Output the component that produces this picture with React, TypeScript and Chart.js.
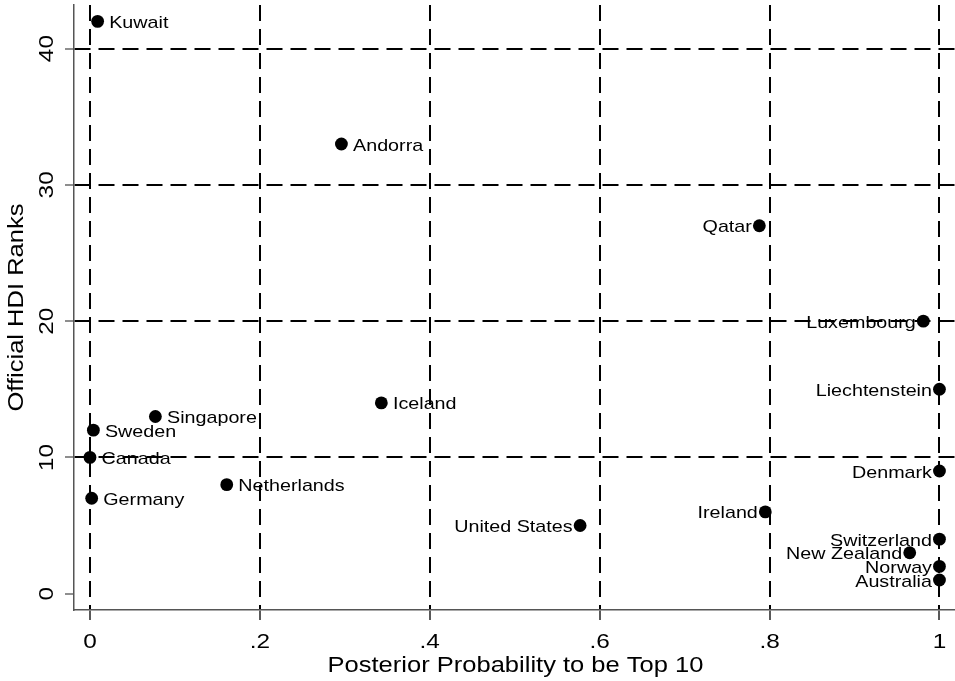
import React, { useEffect, useRef } from 'react';
import { Chart, registerables } from 'chart.js';

Chart.register(...registerables);

// ---- Data ----
const countries = [
  'Kuwait', 'Andorra', 'Qatar', 'Luxembourg', 'Liechtenstein', 'Iceland',
  'Singapore', 'Sweden', 'Canada', 'Netherlands', 'Germany', 'United States',
  'Ireland', 'Denmark', 'Switzerland', 'New Zealand', 'Norway', 'Australia',
];
const posteriorProb = [
  0.009, 0.296, 0.788, 0.981, 1.0, 0.343,
  0.077, 0.004, 0.0, 0.161, 0.002, 0.577,
  0.795, 1.0, 1.0, 0.965, 1.0, 1.0,
];
const hdiRank = [
  42, 33, 27, 20, 15, 14,
  13, 12, 10, 8, 7, 5,
  6, 9, 4, 3, 2, 1,
];
// label position relative to marker: 'r' = right, 'l' = left
const labelSide = [
  'r', 'r', 'l', 'l', 'l', 'r',
  'r', 'r', 'r', 'r', 'r', 'l',
  'l', 'l', 'l', 'l', 'l', 'l',
];
const xTitle = 'Posterior Probability to be Top 10';
const yTitle = 'Official HDI Ranks';
const X_MIN = -0.0188;
const X_MAX = 1.0183;
const Y_MIN = -1.2;
const Y_MAX = 43.2;
const X_STEP = 0.2;
const Y_STEP = 10;

const FONT = '"Liberation Sans", Arial, Helvetica, sans-serif';
const STRETCH = 1.16;
const TEXT_COLOR = '#000';

function fmtX(v: number): string {
  const r = Math.round(v * 10) / 10;
  if (r === 0) return '0';
  if (r === 1) return '1';
  return String(r).replace(/^0\./, '.');
}

const textPlugin = {
  id: 'stataText',
  afterDatasetsDraw(chart: any) {
    const ctx: CanvasRenderingContext2D = chart.ctx;
    const xs = chart.scales.x;
    const ys = chart.scales.y;
    const area = chart.chartArea;
    const meta = chart.getDatasetMeta(0);
    ctx.save();
    ctx.fillStyle = TEXT_COLOR;
    ctx.textBaseline = 'alphabetic';

    // marker labels
    ctx.font = `17px ${FONT}`;
    meta.data.forEach((el: any, i: number) => {
      const { x, y } = el.getProps(['x', 'y'], true);
      ctx.save();
      if (labelSide[i] === 'r') {
        ctx.translate(x + 11.6, y + 6.6);
        ctx.scale(STRETCH, 1);
        ctx.textAlign = 'left';
      } else {
        ctx.translate(x - 7.5, y + 6.6);
        ctx.scale(STRETCH, 1);
        ctx.textAlign = 'right';
      }
      ctx.fillText(countries[i], 0, 0);
      ctx.restore();
    });

    // x tick labels
    ctx.font = `21px ${FONT}`;
    xs.ticks.forEach((t: any) => {
      const px = xs.getPixelForValue(t.value);
      ctx.save();
      ctx.translate(px, area.bottom + 38);
      ctx.scale(STRETCH, 1);
      ctx.textAlign = 'center';
      ctx.fillText(fmtX(t.value), 0, 0);
      ctx.restore();
    });

    // y tick labels (rotated)
    ys.ticks.forEach((t: any) => {
      const py = ys.getPixelForValue(t.value);
      ctx.save();
      ctx.translate(area.left - 20.7, py);
      ctx.rotate(-Math.PI / 2);
      ctx.scale(STRETCH, 1);
      ctx.textAlign = 'center';
      ctx.fillText(String(Math.round(t.value)), 0, 0);
      ctx.restore();
    });

    // axis titles
    ctx.font = `22px ${FONT}`;
    ctx.save();
    ctx.translate((area.left + area.right) / 2 + 1, area.bottom + 62);
    ctx.scale(STRETCH, 1);
    ctx.textAlign = 'center';
    ctx.fillText(xTitle, 0, 0);
    ctx.restore();

    ctx.save();
    ctx.translate(area.left - 51, (area.top + area.bottom) / 2);
    ctx.rotate(-Math.PI / 2);
    ctx.scale(STRETCH, 1);
    ctx.textAlign = 'center';
    ctx.fillText(yTitle, 0, 0);
    ctx.restore();

    ctx.restore();
  },
};

export default function App() {
  const ref = useRef<HTMLCanvasElement>(null);

  useEffect(() => {
    if (!ref.current) return;
    const points = countries.map((_, i) => ({ x: posteriorProb[i], y: hdiRank[i] }));
    const chart = new Chart(ref.current, {
      type: 'scatter',
      data: {
        datasets: [
          {
            data: points,
            pointRadius: 6.4,
            pointHoverRadius: 6.4,
            pointBackgroundColor: '#000',
            pointBorderColor: '#000',
            pointBorderWidth: 0,
          },
        ],
      },
      options: {
        responsive: false,
        animation: false,
        devicePixelRatio: 1,
        events: [],
        layout: { autoPadding: false, padding: { top: 5, left: 0, right: 0, bottom: 0 } },
        plugins: {
          legend: { display: false },
          tooltip: { enabled: false },
          title: { display: false },
        },
        scales: {
          x: {
            type: 'linear',
            position: 'bottom',
            min: X_MIN,
            max: X_MAX,
            ticks: { stepSize: X_STEP, includeBounds: false, display: false },
            grid: {
              color: '#000',
              lineWidth: 2,
              drawTicks: true,
              tickLength: 10,
              tickColor: '#222',
              tickWidth: 1.5,
            },
            border: { display: true, color: '#555', width: 1.5, dash: [16, 8] },
            afterFit: (s: any) => {
              s.height = 71;
              s.paddingLeft = 0;
              s.paddingRight = 0;
              s.paddingTop = 0;
              s.paddingBottom = 0;
            },
          },
          y: {
            type: 'linear',
            position: 'left',
            min: Y_MIN,
            max: Y_MAX,
            ticks: { stepSize: Y_STEP, includeBounds: false, display: false },
            grid: {
              color: (c: any) => (c.tick && c.tick.value === 0 ? 'rgba(0,0,0,0)' : '#000'),
              lineWidth: 2,
              drawTicks: true,
              tickLength: 9,
              tickColor: '#444',
              tickWidth: 1.2,
            },
            border: { display: true, color: '#555', width: 1.5, dash: [16, 8] },
            afterFit: (s: any) => {
              s.width = 74;
              s.paddingLeft = 0;
              s.paddingRight = 0;
              s.paddingTop = 0;
              s.paddingBottom = 0;
            },
          },
        },
      },
      plugins: [textPlugin],
    });
    return () => chart.destroy();
  }, []);

  return (
    <div style={{ position: 'absolute', left: 0, top: 0, width: 955, height: 681, background: '#fff' }}>
      <canvas ref={ref} width={955} height={681} style={{ display: 'block' }} />
    </div>
  );
}
